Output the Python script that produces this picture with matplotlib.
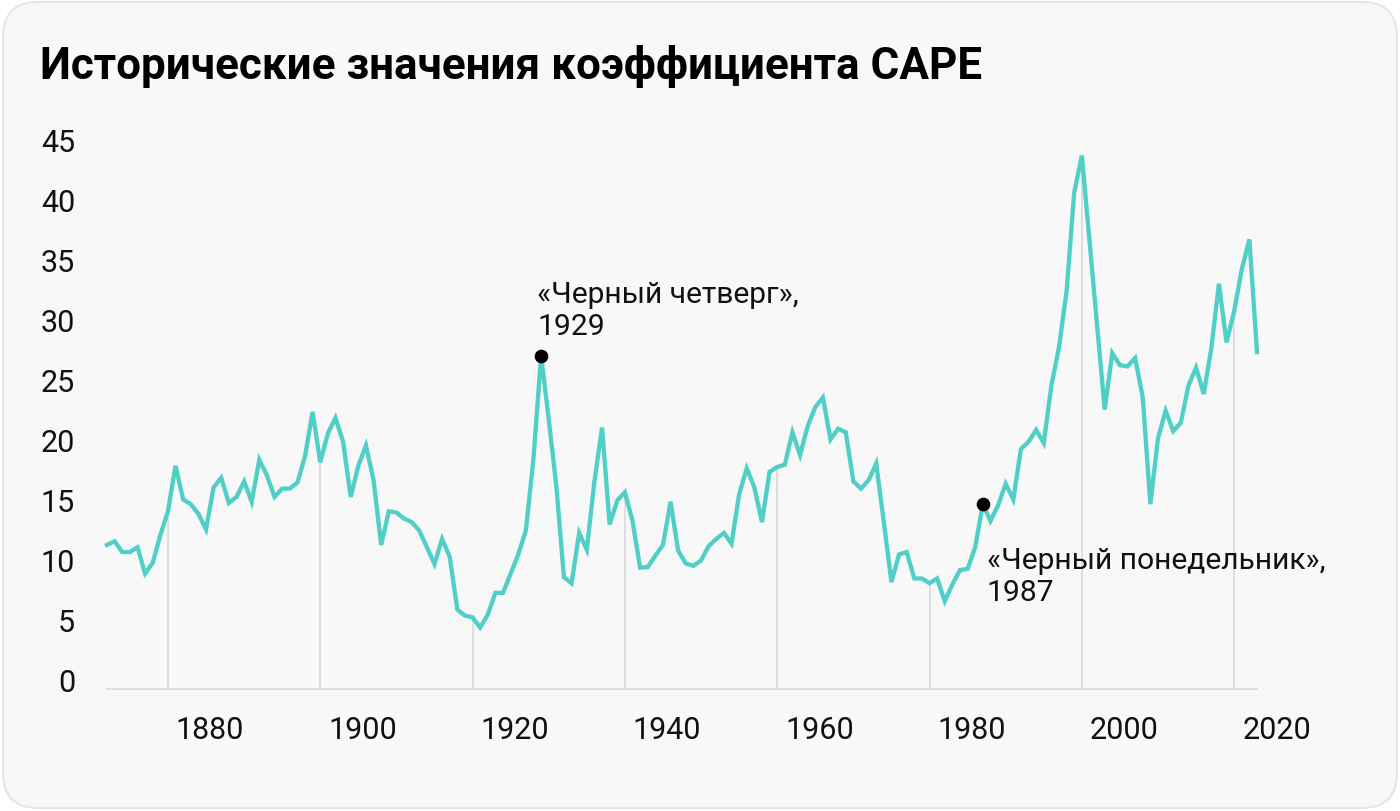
import matplotlib
matplotlib.use("Agg")
from matplotlib import pyplot as plt
from matplotlib import transforms
from matplotlib.patches import FancyBboxPatch

# данные: CAPE на январь каждого года
years = list(range(1872, 2024))
cape = [
    11.2, 11.5, 10.6, 10.6, 11.0, 8.8, 9.7, 12.0,                 # 1872-1879
    14.0, 17.8, 15.0, 14.6, 13.8, 12.5, 16.0, 16.8, 14.7, 15.2,   # 1880-1889
    16.5, 14.8, 18.3, 17.0, 15.2, 15.9, 15.9, 16.4, 18.6, 22.3,   # 1890-1899
    18.1, 20.5, 21.8, 19.8, 15.2, 17.8, 19.5, 16.6, 11.2, 14.0,   # 1900-1909
    13.9, 13.4, 13.1, 12.4, 11.0, 9.6, 11.7, 10.2, 5.8, 5.3,      # 1910-1919
    5.15, 4.3, 5.4, 7.2, 7.2, 8.8, 10.4, 12.4, 18.4, 27.0,        # 1920-1929
    21.7, 16.1, 8.5, 8.0, 12.2, 10.8, 16.5, 21.0, 12.9, 14.9,     # 1930-1939
    15.6, 13.2, 9.3, 9.35, 10.3, 11.2, 14.8, 10.7, 9.65, 9.45,    # 1940-1949
    9.9, 11.1, 11.7, 12.2, 11.3, 15.4, 17.6, 16.0, 13.1, 17.3,    # 1950-1959
    17.7, 17.9, 20.6, 18.7, 21.1, 22.7, 23.5, 20.0, 20.9, 20.6,   # 1960-1969
    16.5, 15.9, 16.6, 18.0, 13.1, 8.1, 10.4, 10.6, 8.4, 8.4,      # 1970-1979
    8.0, 8.4, 6.5, 7.9, 9.1, 9.2, 11.0, 14.6, 13.2, 14.5,         # 1980-1989
    16.3, 15.0, 19.2, 19.8, 20.8, 19.7, 24.5, 27.7, 32.4, 40.6,   # 1990-1999
    43.7, 36.6, 29.5, 22.5, 27.2, 26.2, 26.1, 26.8, 23.5, 14.6,   # 2000-2009
    20.1, 22.4, 20.7, 21.4, 24.5, 26.0, 23.8, 27.6, 33.0, 28.1,   # 2010-2019
    30.7, 34.2, 36.7, 27.3,                                       # 2020-2023
]
x_ticks = [1880, 1900, 1920, 1940, 1960, 1980, 2000, 2020]
y_ticks = [0, 5, 10, 15, 20, 25, 30, 35, 40, 45]
events = [1929, 1987]
event_labels = ["«Черный четверг»,\n1929", "«Черный понедельник»,\n1987"]

title = "Исторические значения коэффициента CAPE"
line_color = "#4fcfc5"
font = "Roboto"

plt.rcParams["font.family"] = [font, "DejaVu Sans"]

fig = plt.figure(figsize=(14, 8.12), dpi=100)
fig.patch.set_facecolor("white")

# карточка с закруглёнными углами
card = FancyBboxPatch((3 / 1400, 3 / 812), 1394 / 1400, 806 / 812,
                      boxstyle="round,pad=0,rounding_size=0.025",
                      transform=fig.transFigure, facecolor="#f8f8f8",
                      edgecolor="#e6e6e6", linewidth=1.5, zorder=-10,
                      mutation_aspect=1400 / 812)
fig.patches.append(card)

fig.text(40 / 1400, 1 - 79 / 812, title, fontsize=31.7, fontweight="bold",
         color="#000000", ha="left", va="baseline", family=[font, "DejaVu Sans"])

ax = fig.add_axes([107 / 1400, 1 - 690 / 812, (1257 - 107) / 1400, (690 - 129) / 812])
ax.set_zorder(5)
ax.set_facecolor("none")
y_bottom = -0.83
ax.set_xlim(1872, 2023)
ax.set_ylim(y_bottom, 46)

for s in ax.spines.values():
    s.set_visible(False)

# базовая линия и вертикальные линии до кривой
ax.axhline(y_bottom, color="#dedede", lw=1.4, zorder=1, clip_on=False)
drop_vals = [cape[years.index(y)] for y in x_ticks]
ax.vlines(x_ticks, y_bottom, drop_vals, color="#dedede", lw=1.4, zorder=1)

ax.plot(years, cape, color=line_color, lw=3.1, zorder=3, clip_on=False,
        solid_joinstyle="miter")

# события
for yr, lab in zip(events, event_labels):
    v = cape[years.index(yr)]
    ax.plot(yr, v, "o", color="black", ms=8.8, zorder=4, clip_on=False)
    if yr == 1929:
        off = (-4, 46)
    else:
        off = (4, -72)
    ax.annotate(lab, xy=(yr, v), xytext=off, textcoords="offset pixels",
                ha="left", va="center", fontsize=21.6, color="#111111",
                linespacing=1.18)

ax.set_yticks(y_ticks)
ax.set_yticklabels([str(t) for t in y_ticks])
ax.set_xticks(x_ticks)
ax.set_xticklabels([str(t) for t in x_ticks])
ax.tick_params(axis="both", length=0, labelsize=22, labelcolor="#111111")
ax.tick_params(axis="y", pad=23)
ax.tick_params(axis="x", pad=19)

shift = transforms.ScaledTranslation(8 / 100, 0, fig.dpi_scale_trans)
for lbl in ax.get_xticklabels():
    lbl.set_horizontalalignment("left")
    lbl.set_transform(lbl.get_transform() + shift)

plt.savefig("out.png", dpi=100, facecolor=fig.get_facecolor())
